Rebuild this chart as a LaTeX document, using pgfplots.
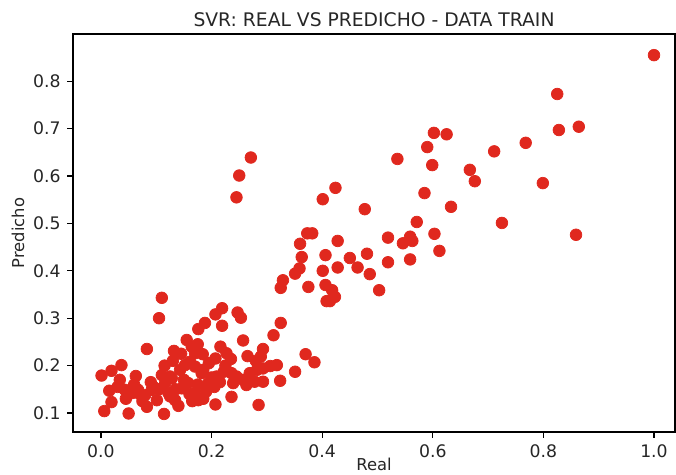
\documentclass[border=0pt]{standalone}
\usepackage{pgfplots}
\pgfplotsset{compat=1.18}
\usepackage{fontspec}
\setmainfont{DejaVu Sans}
\definecolor{dotred}{RGB}{224,40,30}
\begin{document}
\begin{tikzpicture}
\path[use as bounding box] (-40.15pt,-23.65pt) rectangle (331.65pt,237.6pt);
\begin{axis}[
  at={(0pt,0pt)}, anchor=south west,
  scale only axis,
  width=331.1pt, height=218.9pt,
  xmin=-0.0506, xmax=1.038,
  ymin=0.0599, ymax=0.8996,
  xtick={0,0.2,0.4,0.6,0.8,1.0},
  ytick={0.1,0.2,0.3,0.4,0.5,0.6,0.7,0.8},
  xticklabels={0.0,0.2,0.4,0.6,0.8,1.0},
  yticklabels={0.1,0.2,0.3,0.4,0.5,0.6,0.7,0.8},
  tick align=outside,
  xtick pos=bottom, ytick pos=left,
  major tick length=3.3pt,
  tick style={black, line width=0.6pt},
  axis line style={black, line width=0.6pt},
  ticklabel style={font=\fontsize{9.5}{11}\selectfont, text=black!85},
  /pgf/number format/assume math mode=true,
  xlabel={Real}, ylabel={Predicho},
  label style={font=\fontsize{9}{11}\selectfont, text=black!85},
  xlabel style={yshift=6.5pt},
  ylabel style={yshift=-2pt},
  title={SVR: REAL VS PREDICHO - DATA TRAIN},
  title style={font=\fontsize{10.3}{12}\selectfont, text=black!85, yshift=-5.5pt},
]
\addplot[only marks, mark=*, mark size=3.2pt, color=dotred, mark options={draw=dotred, fill=dotred}] table {
x y
1.000 0.855
0.825 0.773
0.864 0.704
0.828 0.697
0.768 0.670
0.711 0.652
0.602 0.691
0.625 0.688
0.590 0.661
0.536 0.636
0.599 0.623
0.667 0.613
0.676 0.589
0.799 0.585
0.424 0.575
0.401 0.551
0.477 0.530
0.585 0.564
0.633 0.535
0.571 0.503
0.725 0.501
0.859 0.476
0.603 0.478
0.612 0.442
0.519 0.470
0.559 0.472
0.563 0.463
0.546 0.458
0.559 0.424
0.519 0.418
0.373 0.479
0.382 0.479
0.360 0.457
0.428 0.463
0.363 0.429
0.406 0.433
0.481 0.436
0.450 0.427
0.359 0.405
0.351 0.394
0.401 0.400
0.428 0.407
0.464 0.407
0.486 0.393
0.329 0.380
0.325 0.364
0.375 0.366
0.406 0.370
0.418 0.359
0.423 0.345
0.408 0.336
0.414 0.336
0.503 0.359
0.325 0.290
0.271 0.639
0.250 0.601
0.245 0.555
0.312 0.264
0.110 0.343
0.105 0.300
0.219 0.321
0.207 0.308
0.247 0.312
0.253 0.301
0.188 0.290
0.176 0.277
0.219 0.284
0.083 0.235
0.132 0.231
0.257 0.253
0.155 0.254
0.164 0.240
0.170 0.226
0.184 0.224
0.216 0.240
0.227 0.226
0.235 0.214
0.207 0.215
0.293 0.235
0.289 0.219
0.370 0.224
0.386 0.207
0.351 0.187
0.324 0.168
0.318 0.201
0.306 0.199
0.285 0.117
0.236 0.134
0.207 0.118
0.114 0.098
0.050 0.099
0.006 0.104
0.019 0.123
0.001 0.179
0.019 0.189
0.037 0.201
0.015 0.147
0.083 0.113
0.063 0.178
0.125 0.177
0.143 0.191
0.152 0.201
0.161 0.208
0.185 0.191
0.209 0.177
0.222 0.187
0.245 0.177
0.257 0.170
0.269 0.184
0.282 0.191
0.293 0.194
0.239 0.163
0.263 0.159
0.293 0.166
0.034 0.170
0.043 0.149
0.056 0.142
0.067 0.149
0.080 0.138
0.092 0.149
0.101 0.127
0.095 0.155
0.116 0.163
0.128 0.173
0.122 0.142
0.134 0.127
0.170 0.198
0.146 0.152
0.158 0.163
0.170 0.142
0.176 0.127
0.182 0.184
0.194 0.163
0.236 0.184
0.278 0.166
0.110 0.180
0.135 0.150
0.150 0.170
0.160 0.140
0.175 0.160
0.190 0.145
0.200 0.175
0.205 0.155
0.215 0.165
0.125 0.135
0.140 0.115
0.165 0.125
0.185 0.130
0.030 0.155
0.045 0.130
0.060 0.160
0.075 0.125
0.090 0.165
0.105 0.150
0.070 0.140
0.115 0.200
0.130 0.210
0.145 0.225
0.175 0.245
0.195 0.205
0.225 0.200
0.265 0.220
0.280 0.210
};
\end{axis}
\end{tikzpicture}
\end{document}
